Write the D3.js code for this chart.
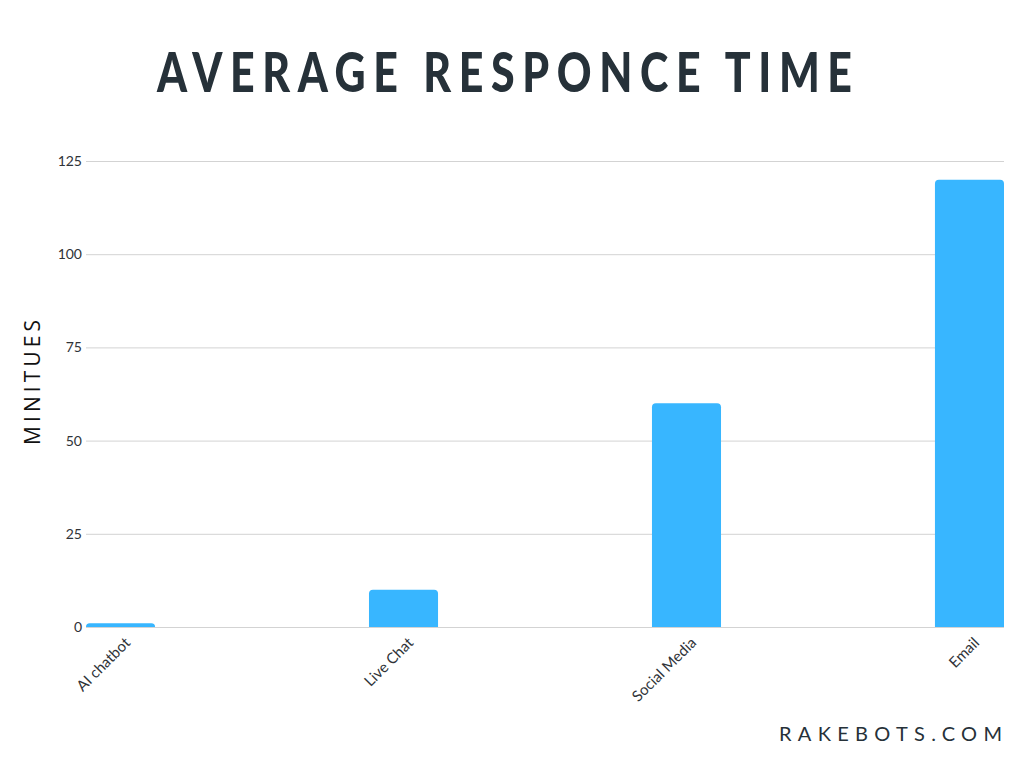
<!DOCTYPE html>
<html><head><meta charset="utf-8">
<script src="https://cdn.jsdelivr.net/npm/d3@7"></script>
<style>body{margin:0;background:#fff}svg{display:block}</style>
</head><body>
<svg id="c" width="1024" height="768"></svg>
<script>
const categories = ["AI chatbot", "Live Chat", "Social Media", "Email"];
const values = [1, 10, 60, 120];
const yTicks = [0, 25, 50, 75, 100, 125];
const title = "AVERAGE RESPONCE TIME";
const yLabel = "MINITUES";
const credit = "RAKEBOTS.COM";

const svg = d3.select("#c");
const plotL = 86, plotR = 1004, plotT = 161, plotB = 627;
const x = d3.scaleBand().domain(categories).range([plotL, plotR]).paddingInner(0.756).paddingOuter(0);
const y = d3.scaleLinear().domain([0, 125]).range([plotB, plotT]);

svg.append("rect").attr("width",1024).attr("height",768).attr("fill","#fff");

// title
const sx = 0.78;
svg.append("text").attr("transform", `translate(157,92) scale(${sx},1)`)
  .attr("textLength", 695 / sx).attr("lengthAdjust","spacing")
  .style("font-family","Lato, 'Open Sans', sans-serif").style("font-weight","900")
  .style("font-size","55px").attr("fill","#263139").text(title);

// grid
const yAxis = d3.axisLeft(y).tickValues(yTicks).tickSize(-(plotR-plotL)).tickPadding(4);
const ga = svg.append("g").attr("transform",`translate(${plotL},0)`).call(yAxis);
ga.select(".domain").remove();
ga.selectAll(".tick line").attr("stroke","#d3d3d3").attr("stroke-width",1);
ga.selectAll(".tick text").style("font-family","Lato, sans-serif").style("font-size","14px").attr("fill","#2f3338");

// bars
const r = 4;
svg.append("g").selectAll("path").data(categories).join("path")
  .attr("fill","#38b6ff")
  .attr("d", (d,i) => {
    const x0 = x(d), w = x.bandwidth(), y0 = y(values[i]), h = plotB - y0;
    const rr = Math.min(r, h, w/2);
    return `M${x0},${plotB}V${y0+rr}Q${x0},${y0} ${x0+rr},${y0}H${x0+w-rr}Q${x0+w},${y0} ${x0+w},${y0+rr}V${plotB}Z`;
  });

// x labels
const xa = d3.axisBottom(x).tickSize(0).tickPadding(0);
const gx = svg.append("g").attr("transform",`translate(0,${plotB})`).call(xa);
gx.select(".domain").remove();
gx.selectAll(".tick text")
  .attr("text-anchor","end")
  .attr("transform","translate(7,13) rotate(-45)")
  .attr("dy","0.35em").attr("y",0)
  .style("font-family","Lato, sans-serif").style("font-size","15px").attr("fill","#2f3338");

// y label
svg.append("text").attr("transform","translate(40,445) rotate(-90)")
  .attr("textLength", 125).attr("lengthAdjust","spacing")
  .style("font-family","'Open Sans', 'DejaVu Sans', sans-serif").style("font-size","21px")
  .attr("fill","#111").text(yLabel);

// credit
svg.append("text").attr("x", 779).attr("y", 741)
  .attr("textLength", 223).attr("lengthAdjust","spacing")
  .style("font-family","Lato, sans-serif").style("font-size","20px")
  .attr("fill","#263139").text(credit);
</script>
</body></html>
